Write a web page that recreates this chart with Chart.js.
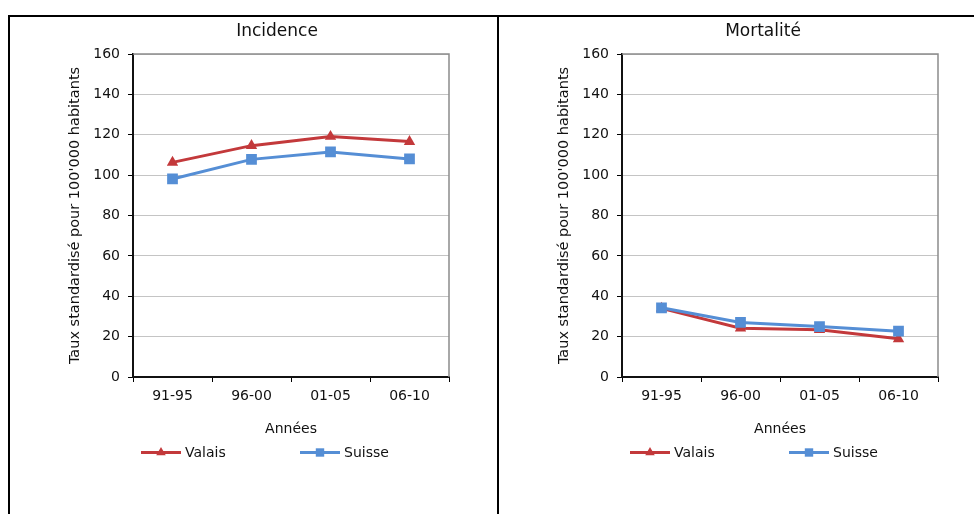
<!DOCTYPE html>
<html lang="fr">
<head>
<meta charset="utf-8">
<title>Incidence et mortalité</title>
<script src="https://cdn.jsdelivr.net/npm/chart.js@4.4.1/dist/chart.umd.min.js"></script>
<style>
    html, body { margin: 0; padding: 0; background: #fff; }
    #frame {
        position: absolute; left: 8px; top: 15px; width: 966px; height: 499px;
        border-top: 2px solid #000; border-left: 2px solid #000; box-sizing: border-box;
    }
    #divider { position: absolute; left: 497px; top: 15px; width: 2px; height: 499px; background: #000; }
    canvas { position: absolute; top: 17px; }
    #incidenceChart { left: 10px; }
    #mortaliteChart { left: 499px; }
</style>
</head>
<body>
<div id="frame"></div>
<div id="divider"></div>
<canvas id="incidenceChart" width="486" height="497"></canvas>
<canvas id="mortaliteChart" width="475" height="497"></canvas>
<script>
// periods and rates (taux standardisé pour 100'000 habitants)
const periods = ['91-95', '96-00', '01-05', '06-10'];
const incidenceValais = [106.3, 114.6, 119.1, 116.6];
const incidenceSuisse = [98.1, 107.8, 111.5, 108.0];
const mortaliteValais = [34.0, 24.2, 23.4, 18.9];
const mortaliteSuisse = [34.3, 27.0, 25.0, 22.7];
const yMax = 160;
const yStep = 20;

const RED = '#c3393b';
const BLUE = '#558ed5';
const FONT = "'DejaVu Sans', Verdana, sans-serif";

function drawMarker(ctx, style, x, y, r, color) {
    ctx.save();
    ctx.fillStyle = color;
    ctx.beginPath();
    if (style === 'triangle') {
        ctx.moveTo(x, y - r);
        ctx.lineTo(x + r * 0.866, y + r * 0.5);
        ctx.lineTo(x - r * 0.866, y + r * 0.5);
    } else {
        ctx.rect(x - r, y - r, r * 2, r * 2);
    }
    ctx.closePath();
    ctx.fill();
    ctx.restore();
}

// panel title, plot frame and legend
const panelDecor = {
    id: 'panelDecor',
    beforeDatasetsDraw(chart) {
        const {ctx, chartArea: a} = chart;
        ctx.save();
        ctx.strokeStyle = '#8c8c8c';
        ctx.lineWidth = 1.5;
        ctx.beginPath();
        ctx.moveTo(a.left, a.top);
        ctx.lineTo(a.right, a.top);
        ctx.lineTo(a.right, a.bottom);
        ctx.stroke();
        ctx.restore();
    },
    afterDraw(chart) {
        const ctx = chart.ctx;
        const opts = chart.options.plugins.panelDecor;
        ctx.save();
        ctx.fillStyle = '#111';
        ctx.font = '17px ' + FONT;
        ctx.textAlign = 'center';
        ctx.textBaseline = 'middle';
        ctx.fillText(opts.title, opts.titleX, 15);

        const legendY = 435.5;
        const slots = [131, 290];
        ctx.font = '14px ' + FONT;
        ctx.textAlign = 'left';
        chart.data.datasets.forEach((ds, i) => {
            const x0 = slots[i];
            ctx.strokeStyle = ds.borderColor;
            ctx.lineWidth = 3;
            ctx.beginPath();
            ctx.moveTo(x0, legendY);
            ctx.lineTo(x0 + 40, legendY);
            ctx.stroke();
            drawMarker(ctx, ds.pointStyle, x0 + 20, legendY, ds.pointStyle === 'triangle' ? 5.5 : 4.2, ds.borderColor);
            ctx.fillStyle = '#111';
            ctx.fillText(ds.label, x0 + 44, legendY + 1);
        });
        ctx.restore();
    }
};

function makeChart(id, title, titleX, valais, suisse) {
    const canvas = document.getElementById(id);
    return new Chart(canvas, {
        type: 'line',
        data: {
            labels: periods,
            datasets: [
                {
                    label: 'Valais',
                    data: valais,
                    borderColor: RED,
                    backgroundColor: RED,
                    borderWidth: 3,
                    pointStyle: 'triangle',
                    pointRadius: 6.6,
                    pointBorderWidth: 0,
                    tension: 0,
                    order: 2
                },
                {
                    label: 'Suisse',
                    data: suisse,
                    borderColor: BLUE,
                    backgroundColor: BLUE,
                    borderWidth: 3,
                    pointStyle: 'rect',
                    pointRadius: 7.6,
                    pointBorderWidth: 0,
                    tension: 0,
                    order: 1
                }
            ]
        },
        options: {
            responsive: false,
            animation: false,
            layout: {
                padding: { top: 37, left: 0, bottom: 0, right: canvas.width - 439 }
            },
            plugins: {
                legend: { display: false },
                title: { display: false },
                tooltip: { enabled: false },
                panelDecor: { title: title, titleX: titleX }
            },
            scales: {
                x: {
                    offset: true,
                    afterFit: (scale) => { scale.height = 137; },
                    grid: {
                        offset: true,
                        drawOnChartArea: false,
                        tickLength: 5,
                        tickColor: '#000'
                    },
                    border: { color: '#111', width: 2 },
                    ticks: {
                        color: '#111',
                        padding: 6,
                        font: { family: FONT, size: 14 }
                    },
                    title: {
                        display: true,
                        text: 'Années',
                        color: '#111',
                        font: { family: FONT, size: 14 },
                        padding: { top: 0, bottom: 76 }
                    }
                },
                y: {
                    min: 0,
                    max: yMax,
                    afterFit: (scale) => { scale.width = 123; },
                    grid: {
                        color: '#c4c4c4',
                        lineWidth: 1,
                        tickLength: 5,
                        tickColor: '#000'
                    },
                    border: { color: '#111', width: 2 },
                    ticks: {
                        stepSize: yStep,
                        color: '#111',
                        padding: 8,
                        font: { family: FONT, size: 14 }
                    },
                    title: {
                        display: true,
                        text: "Taux standardisé pour 100'000 habitants",
                        color: '#111',
                        font: { family: FONT, size: 14.5 },
                        padding: { top: 57, bottom: 0 }
                    }
                }
            }
        },
        plugins: [panelDecor]
    });
}

document.addEventListener('DOMContentLoaded', () => {
    makeChart('incidenceChart', 'Incidence', 267, incidenceValais, incidenceSuisse);
    makeChart('mortaliteChart', 'Mortalité', 264, mortaliteValais, mortaliteSuisse);
});
</script>
</body>
</html>
